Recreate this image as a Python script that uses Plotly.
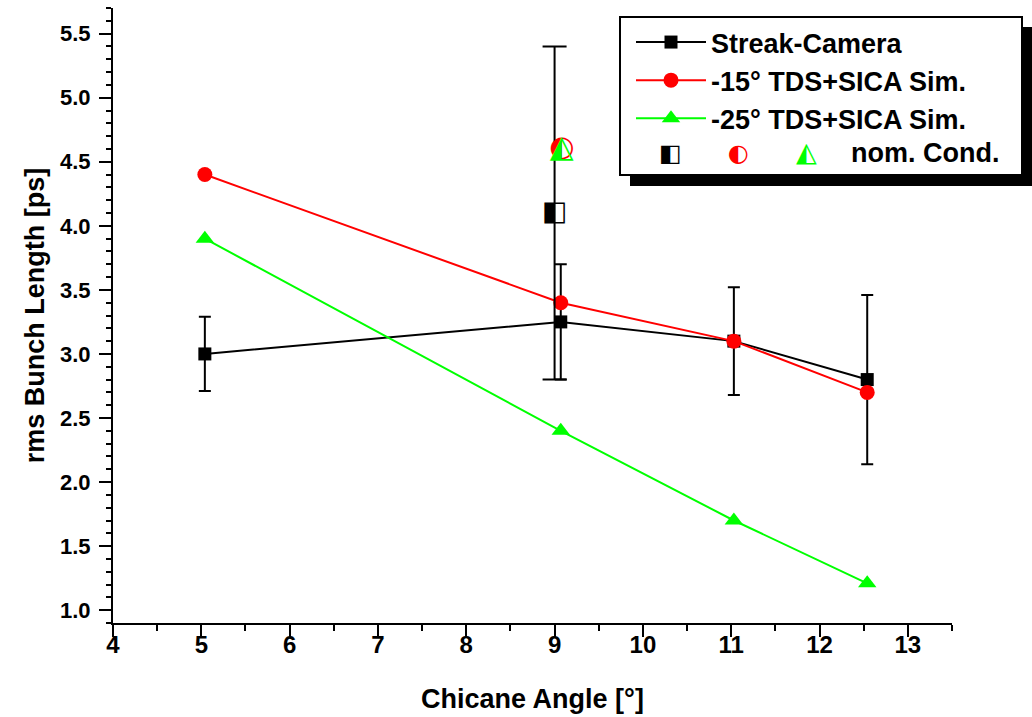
import plotly.graph_objects as go

# ---- data ----
angle = [5.04, 9.07, 11.03, 12.54]
streak = [3.0, 3.25, 3.1, 2.8]
streak_err = [0.29, 0.45, 0.42, 0.66]
sim15 = [4.4, 3.4, 3.1, 2.7]
sim25 = [3.9, 2.4, 1.7, 1.21]

nom_streak_x = [9.0]
nom_streak_y = [4.1]
nom_streak_err = [1.3]
nom_sim_x = [9.08]
nom_sim15_y = [4.6]
nom_sim25_y = [4.6]

x_ticks = [4, 5, 6, 7, 8, 9, 10, 11, 12, 13]
y_ticks = [1.0, 1.5, 2.0, 2.5, 3.0, 3.5, 4.0, 4.5, 5.0, 5.5]

FONT = "Liberation Sans"

fig = go.Figure()

fig.add_trace(go.Scatter(
    x=angle, y=streak, mode="lines+markers", name="<b>Streak-Camera</b>",
    line=dict(color="black", width=2),
    marker=dict(symbol="square", size=13, color="black"),
    error_y=dict(type="data", array=streak_err, color="black", thickness=2, width=6),
))
fig.add_trace(go.Scatter(
    x=angle, y=sim15, mode="lines+markers", name="<b>-15° TDS+SICA Sim.</b>",
    line=dict(color="#ff0000", width=2),
    marker=dict(symbol="circle", size=15, color="#ff0000"),
))
fig.add_trace(go.Scatter(
    x=angle, y=sim25, mode="lines+markers", name="<b>-25° TDS+SICA Sim.</b>",
    line=dict(color="#00ff00", width=2),
    marker=dict(symbol="triangle-up", size=16, color="#00ff00"),
))

# nominal condition: error bar + half-filled markers
fig.add_trace(go.Scatter(
    x=nom_streak_x, y=nom_streak_y, mode="markers", showlegend=False,
    marker=dict(symbol="square", size=1, color="rgba(0,0,0,0)"),
    error_y=dict(type="data", array=nom_streak_err, color="black", thickness=2, width=12),
))
fig.add_trace(go.Scatter(
    x=nom_streak_x, y=nom_streak_y, mode="text", showlegend=False,
    text=["\u25E7"], textfont=dict(family="DejaVu Sans", size=27, color="black"),
))
fig.add_trace(go.Scatter(
    x=nom_sim_x, y=nom_sim15_y, mode="text", showlegend=False,
    text=["\u25D0"], textfont=dict(family="DejaVu Sans", size=29, color="#ff0000"),
))
fig.add_trace(go.Scatter(
    x=nom_sim_x, y=nom_sim25_y, mode="text", showlegend=False,
    text=["\u25ED"], textfont=dict(family="DejaVu Sans", size=31, color="#00ff00"),
))

# plot area geometry (pixels -> paper)
L, R, T, B = 113, 952, 8, 623
W, H = R - L, B - T
def px(x):
    return (x - L) / W
def py(y):
    return (B - y) / H

shapes = [
    dict(type="rect", xref="paper", yref="paper", x0=px(630), x1=px(1036), y0=py(186), y1=py(27),
         fillcolor="black", line=dict(width=0), layer="above"),
    dict(type="rect", xref="paper", yref="paper", x0=px(620), x1=px(1022), y0=py(175), y1=py(17),
         fillcolor="white", line=dict(color="black", width=2), layer="above"),
]

annotations = [
    dict(xref="paper", yref="paper", x=px(670), y=py(153), text="\u25E7", showarrow=False,
         xanchor="center", yanchor="middle",
         font=dict(family="DejaVu Sans", size=24, color="black")),
    dict(xref="paper", yref="paper", x=px(738), y=py(153), text="\u25D0", showarrow=False,
         xanchor="center", yanchor="middle",
         font=dict(family="DejaVu Sans", size=24, color="#ff0000")),
    dict(xref="paper", yref="paper", x=px(806), y=py(151), text="\u25ED", showarrow=False,
         xanchor="center", yanchor="middle",
         font=dict(family="DejaVu Sans", size=27, color="#00ff00")),
    dict(xref="paper", yref="paper", x=px(849), y=py(153), text="<b>nom. Cond.</b>", showarrow=False,
         xanchor="left", yanchor="middle",
         font=dict(family=FONT, size=27, color="black")),
]

fig.update_layout(
    width=1032, height=717,
    margin=dict(l=L, r=1032 - R, t=T, b=717 - B),
    paper_bgcolor="white", plot_bgcolor="white",
    font=dict(family=FONT, size=22, color="black"),
    showlegend=True,
    legend=dict(
        x=px(631), y=py(18), xanchor="left", yanchor="top",
        bgcolor="rgba(0,0,0,0)", borderwidth=0,
        font=dict(family=FONT, size=27, color="black"),
        itemwidth=70, tracegroupgap=0,
    ),
    shapes=shapes,
    annotations=annotations,
    xaxis=dict(
        range=[4, 13.5], tickmode="array", tickvals=x_ticks,
        ticktext=[str(v) for v in x_ticks],
        showgrid=False, zeroline=False, showline=True, linecolor="black", linewidth=2,
        ticks="outside", ticklen=12, tickwidth=2, tickcolor="black",
        ticklabelstandoff=-13,
        minor=dict(ticks="outside", ticklen=6, tickwidth=2, tickcolor="black", dtick=0.5, showgrid=False),
        title=dict(text="<b>Chicane Angle [°]</b>", font=dict(size=27), standoff=32),
        tickfont=dict(size=24, weight="bold"),
    ),
    yaxis=dict(
        range=[0.9, 5.7], tickmode="array", tickvals=y_ticks,
        ticktext=[f"{v:.1f}" for v in y_ticks],
        showgrid=False, zeroline=False, showline=True, linecolor="black", linewidth=2,
        ticks="outside", ticklen=12, tickwidth=2, tickcolor="black",
        ticklabelstandoff=4,
        minor=dict(ticks="outside", ticklen=5, tickwidth=2, tickcolor="black", dtick=0.1, showgrid=False),
        title=dict(text="<b>rms Bunch Length [ps]</b>", font=dict(size=27), standoff=8),
        tickfont=dict(size=22, weight="bold"),
    ),
)

fig.write_html("out.html")
